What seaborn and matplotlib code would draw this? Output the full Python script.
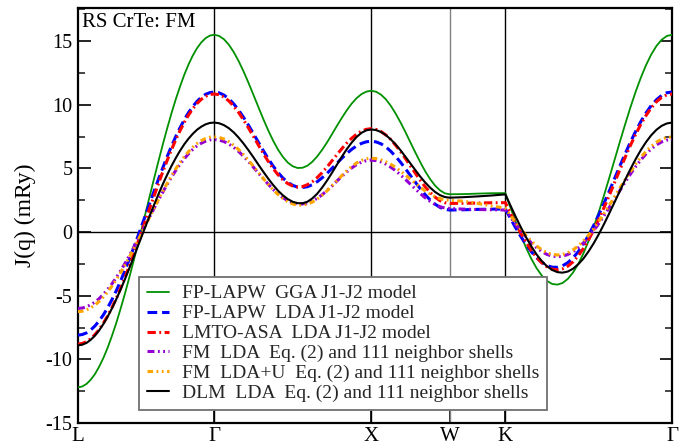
import numpy as np
import pandas as pd
import matplotlib
matplotlib.use("Agg")
import matplotlib.pyplot as plt
from matplotlib.ticker import MultipleLocator
import seaborn as sns

# ---------------- data ----------------
kpoint_labels = ["L", "Γ", "X", "W", "K", "Γ"]
segment_lengths = [np.sqrt(3) / 2, 1.0, 0.5, np.sqrt(2) / 4, 3 * np.sqrt(2) / 4]
segment_steps = [32, 32, 16, 4, 32]

series_names = [
    "FP-LAPW  GGA J1-J2 model",
    "FP-LAPW  LDA J1-J2 model",
    "LMTO-ASA  LDA J1-J2 model",
    "FM  LDA  Eq. (2) and 111 neighbor shells",
    "FM  LDA+U  Eq. (2) and 111 neighbor shells",
    "DLM  LDA  Eq. (2) and 111 neighbor shells",
]

gga_j1j2 = [
    # L -> Gamma
    -12.20, -12.13, -11.93, -11.60, -11.15, -10.56, -9.87, -9.06, -8.14, -7.14, -6.04, -4.88, -3.65, -2.37, -1.05, 0.29,
    1.65, 3.01, 4.35, 5.67, 6.95, 8.18, 9.35, 10.44, 11.44, 12.36, 13.17, 13.87, 14.45, 14.90, 15.23, 15.43, 15.50,
    # Gamma -> X
    15.41, 15.15, 14.72, 14.14, 13.43, 12.62, 11.73, 10.79, 9.84, 8.90, 8.01, 7.20, 6.49, 5.91, 5.46, 5.17,
    5.03, 5.05, 5.21, 5.52, 5.94, 6.46, 7.04, 7.68, 8.33, 8.96, 9.55, 10.08, 10.51, 10.83, 11.03, 11.10,
    # X -> W
    11.02, 10.79, 10.42, 9.91, 9.29, 8.59, 7.83, 7.03, 6.24, 5.48, 4.77, 4.16, 3.65, 3.28, 3.04, 2.97,
    # W -> K
    2.98, 3.02, 3.05, 3.06,
    # K -> Gamma
    1.91, 0.79, -0.27, -1.25, -2.11, -2.84, -3.42, -3.84, -4.08, -4.13, -4.00, -3.68, -3.18, -2.51, -1.67, -0.68,
    0.43, 1.65, 2.96, 4.32, 5.71, 7.10, 8.46, 9.77, 11.00, 12.11, 13.10, 13.94, 14.61, 15.10, 15.40, 15.50]

lda_j1j2 = [
    -8.10, -8.05, -7.92, -7.69, -7.37, -6.97, -6.49, -5.93, -5.30, -4.61, -3.86, -3.05, -2.20, -1.32, -0.41, 0.51,
    1.45, 2.39, 3.31, 4.22, 5.10, 5.95, 6.76, 7.51, 8.20, 8.83, 9.39, 9.87, 10.27, 10.59, 10.82, 10.95, 11.00,
    10.94, 10.76, 10.47, 10.07, 9.58, 9.01, 8.39, 7.74, 7.07, 6.41, 5.78, 5.20, 4.69, 4.25, 3.91, 3.67,
    3.53, 3.50, 3.56, 3.72, 3.96, 4.26, 4.61, 5.00, 5.40, 5.79, 6.16, 6.49, 6.76, 6.96, 7.09, 7.13,
    7.08, 6.93, 6.68, 6.34, 5.93, 5.47, 4.96, 4.43, 3.91, 3.40, 2.93, 2.52, 2.19, 1.94, 1.78, 1.73,
    1.75, 1.78, 1.80, 1.81,
    1.06, 0.32, -0.37, -1.00, -1.55, -2.02, -2.38, -2.63, -2.76, -2.77, -2.65, -2.40, -2.03, -1.54, -0.94, -0.24,
    0.55, 1.41, 2.32, 3.26, 4.23, 5.20, 6.14, 7.05, 7.89, 8.67, 9.35, 9.93, 10.39, 10.73, 10.94, 11.00]

lmto_j1j2 = [
    -8.80, -8.75, -8.61, -8.38, -8.05, -7.64, -7.14, -6.57, -5.92, -5.21, -4.43, -3.61, -2.73, -1.83, -0.89, 0.06,
    1.03, 1.99, 2.94, 3.88, 4.79, 5.66, 6.48, 7.26, 7.97, 8.62, 9.19, 9.69, 10.10, 10.43, 10.66, 10.80, 10.85,
    10.79, 10.61, 10.30, 9.89, 9.39, 8.81, 8.18, 7.52, 6.85, 6.19, 5.57, 5.00, 4.51, 4.11, 3.81, 3.62,
    3.54, 3.57, 3.72, 3.95, 4.28, 4.67, 5.11, 5.59, 6.07, 6.54, 6.98, 7.36, 7.68, 7.92, 8.07, 8.12,
    8.06, 7.89, 7.62, 7.26, 6.81, 6.31, 5.76, 5.18, 4.61, 4.06, 3.55, 3.11, 2.74, 2.47, 2.31, 2.25,
    2.26, 2.28, 2.30, 2.31,
    1.47, 0.66, -0.11, -0.82, -1.45, -1.99, -2.42, -2.73, -2.92, -2.97, -2.89, -2.68, -2.34, -1.87, -1.28, -0.59,
    0.19, 1.05, 1.97, 2.93, 3.91, 4.90, 5.86, 6.79, 7.66, 8.45, 9.15, 9.75, 10.23, 10.57, 10.78, 10.85]

fm_lda = [
    -6.00, -5.97, -5.87, -5.71, -5.50, -5.22, -4.88, -4.49, -4.06, -3.57, -3.05, -2.49, -1.90, -1.29, -0.66, -0.02,
    0.64, 1.29, 1.93, 2.56, 3.17, 3.76, 4.32, 4.84, 5.33, 5.76, 6.15, 6.49, 6.77, 6.98, 7.14, 7.24, 7.27,
    7.23, 7.11, 6.92, 6.65, 6.33, 5.95, 5.54, 5.10, 4.64, 4.20, 3.77, 3.36, 3.01, 2.71, 2.47, 2.30,
    2.21, 2.21, 2.28, 2.43, 2.65, 2.93, 3.27, 3.62, 4.00, 4.37, 4.72, 5.03, 5.29, 5.49, 5.61, 5.65,
    5.61, 5.51, 5.33, 5.09, 4.81, 4.48, 4.12, 3.75, 3.38, 3.02, 2.69, 2.41, 2.17, 1.99, 1.89, 1.85,
    1.80, 1.77, 1.75, 1.73,
    1.16, 0.60, 0.07, -0.42, -0.86, -1.23, -1.53, -1.76, -1.89, -1.94, -1.90, -1.76, -1.54, -1.24, -0.85, -0.39,
    0.13, 0.70, 1.32, 1.96, 2.62, 3.27, 3.92, 4.54, 5.13, 5.66, 6.13, 6.53, 6.85, 7.08, 7.22, 7.27]

fm_ldau = [
    -6.25, -6.22, -6.12, -5.95, -5.73, -5.44, -5.09, -4.69, -4.24, -3.74, -3.20, -2.62, -2.01, -1.38, -0.72, -0.06,
    0.62, 1.29, 1.95, 2.61, 3.24, 3.85, 4.43, 4.97, 5.47, 5.92, 6.32, 6.67, 6.96, 7.18, 7.35, 7.45, 7.48,
    7.44, 7.31, 7.10, 6.82, 6.48, 6.08, 5.64, 5.17, 4.69, 4.22, 3.76, 3.33, 2.96, 2.64, 2.38, 2.21,
    2.12, 2.11, 2.19, 2.35, 2.59, 2.89, 3.24, 3.63, 4.03, 4.43, 4.80, 5.14, 5.42, 5.63, 5.76, 5.80,
    5.77, 5.67, 5.52, 5.32, 5.07, 4.78, 4.47, 4.15, 3.83, 3.52, 3.23, 2.98, 2.78, 2.63, 2.53, 2.50,
    2.42, 2.25, 2.05, 1.88,
    1.30, 0.74, 0.21, -0.28, -0.72, -1.09, -1.39, -1.62, -1.75, -1.80, -1.76, -1.62, -1.40, -1.09, -0.70, -0.24,
    0.29, 0.87, 1.49, 2.13, 2.79, 3.46, 4.11, 4.73, 5.32, 5.86, 6.33, 6.73, 7.06, 7.29, 7.43, 7.48]

dlm_lda = [
    -8.90, -8.85, -8.71, -8.46, -8.13, -7.71, -7.21, -6.63, -5.99, -5.28, -4.53, -3.73, -2.90, -2.05, -1.18, -0.32,
    0.55, 1.40, 2.23, 3.03, 3.80, 4.52, 5.20, 5.82, 6.39, 6.90, 7.34, 7.72, 8.04, 8.28, 8.46, 8.57, 8.60,
    8.55, 8.40, 8.16, 7.83, 7.42, 6.95, 6.43, 5.88, 5.31, 4.75, 4.21, 3.71, 3.26, 2.89, 2.59, 2.38,
    2.27, 2.26, 2.38, 2.64, 3.01, 3.49, 4.04, 4.65, 5.28, 5.91, 6.50, 7.02, 7.46, 7.79, 7.99, 8.06,
    8.01, 7.86, 7.61, 7.27, 6.87, 6.41, 5.90, 5.38, 4.86, 4.35, 3.89, 3.49, 3.15, 2.90, 2.75, 2.70,
    2.74, 2.80, 2.87, 2.96,
    2.07, 1.19, 0.36, -0.42, -1.13, -1.76, -2.28, -2.69, -2.98, -3.15, -3.19, -3.10, -2.88, -2.53, -2.08, -1.51,
    -0.86, -0.13, 0.67, 1.51, 2.37, 3.24, 4.10, 4.93, 5.71, 6.43, 7.06, 7.60, 8.03, 8.34, 8.53, 8.60]

# ---------------- q-path ----------------
q = [0.0]
start = 0.0
for seg_len, n in zip(segment_lengths, segment_steps):
    for i in range(1, n + 1):
        q.append(start + seg_len * i / n)
    start += seg_len
q = np.array(q)
kpos = np.concatenate([[0.0], np.cumsum(segment_lengths)])

# ---------------- style ----------------
sns.set_style("ticks")
plt.rcParams["font.family"] = ["Liberation Serif", "DejaVu Serif"]
plt.rcParams["axes.unicode_minus"] = False
plt.rcParams["lines.scale_dashes"] = False

fig = plt.figure(figsize=(6.93, 4.46), dpi=100)
ax = fig.add_axes([78 / 693, 23 / 446, 594 / 693, 415 / 446])

# reference lines
for xv, col in zip(kpos[1:-1], ["black", "black", "#808080", "black"]):
    ax.axvline(xv, color=col, lw=1.0, zorder=1)
ax.axhline(0, color="black", lw=1.0, zorder=1)

styles = [
    (gga_j1j2, "#009000", "-", 1.3),
    (lda_j1j2, "#0000ff", (0, (7, 3.5)), 2.2),
    (lmto_j1j2, "#ff0000", (0, (6, 2.5, 1.3, 2.5)), 2.2),
    (fm_lda, "#9400d3", (0, (5, 2.5, 1.3, 2.5, 1.3, 2.5)), 2.2),
    (fm_ldau, "#ffa500", (0, (4, 2.5, 1.3, 2.5, 1.3, 2.5)), 2.2),
    (dlm_lda, "black", "-", 1.5),
]

for name, (vals, col, ls, lw) in zip(series_names, styles):
    df = pd.DataFrame({"q": q, "J": vals})
    sns.lineplot(data=df, x="q", y="J", ax=ax, color=col, linestyle=ls,
                 linewidth=lw, label=name, sort=False, estimator=None, zorder=3)

ax.set_xlim(kpos[0], kpos[-1])
ax.set_ylim(-15, 17.6)
ax.set_xticks(kpos)
ax.set_xticklabels(kpoint_labels)
ax.set_xlabel("")
ax.yaxis.set_major_locator(MultipleLocator(5))
ax.yaxis.set_minor_locator(MultipleLocator(2.5))
ax.tick_params(axis="y", which="major", direction="in", length=9, width=1.2,
               labelsize=14.5, right=True, pad=4, colors="black")
ax.tick_params(axis="y", which="minor", direction="in", length=5, width=1.2, right=True)
ax.tick_params(axis="x", which="major", direction="in", length=9, width=1.2,
               labelsize=15, pad=3, colors="black")
for sp in ax.spines.values():
    sp.set_linewidth(1.6)
    sp.set_color("black")

ax.set_ylabel("J(q) (mRy)", fontsize=17, color="black")
ax.yaxis.set_label_coords(-0.07, 0.5)

ax.text(0.006, 0.988, "RS CrTe: FM", transform=ax.transAxes, ha="left", va="top",
        fontsize=15, color="black")

leg = ax.legend(loc="lower left", bbox_to_anchor=(0.1027, 0.031), borderaxespad=0,
                fontsize=14, frameon=True, fancybox=False, framealpha=1,
                edgecolor="#707070", handlelength=1.15, handletextpad=0.65,
                labelspacing=0.12, borderpad=0.4)
leg.get_frame().set_linewidth(1.3)

fig.savefig("out.png", dpi=100)
